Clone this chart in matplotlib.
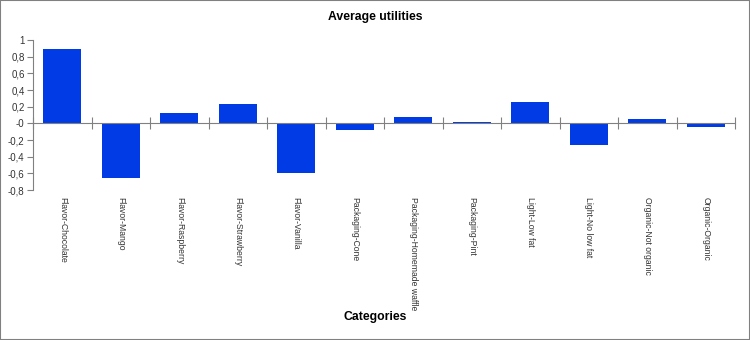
import numpy as np
import matplotlib.pyplot as plt
from matplotlib.patches import Rectangle
from matplotlib.ticker import FuncFormatter

categories = ['Flavor-Chocolate', 'Flavor-Mango', 'Flavor-Raspberry',
              'Flavor-Strawberry', 'Flavor-Vanilla', 'Packaging-Cone',
              'Packaging-Homemade waffle', 'Packaging-Pint', 'Light-Low fat',
              'Light-No low fat', 'Organic-Not organic', 'Organic-Organic']
utilities = [0.89, -0.65, 0.12, 0.23, -0.60, -0.085,
             0.07, 0.015, 0.25, -0.26, 0.05, -0.045]

plt.rcParams['font.family'] = 'Liberation Sans'

fig = plt.figure(figsize=(7.5, 3.4), dpi=100)
ax = fig.add_axes([33 / 750, 1 - 190 / 340, 702 / 750, 150 / 340])

x = np.arange(len(categories))
ax.bar(x, utilities, width=0.65, color='#003be6', zorder=2)

ax.set_xlim(-0.5, len(categories) - 0.5)
ax.set_ylim(-0.8, 1.0)
ax.set_yticks(np.arange(-0.8, 1.01, 0.2))
ax.yaxis.set_major_formatter(FuncFormatter(
    lambda v, p: ('%g' % round(v, 1)).replace('.', ',')))
ax.tick_params(axis='y', labelsize=7, length=4, color='gray',
               labelcolor='#333333', pad=2)

for s in ['top', 'right']:
    ax.spines[s].set_visible(False)
ax.spines['left'].set_color('gray')
ax.spines['bottom'].set_color('gray')
ax.spines['bottom'].set_position(('data', 0))

# category boundaries get the tick marks on the zero line
ax.set_xticks(np.arange(len(categories) + 1) - 0.5)
ax.set_xticklabels([])
ax.tick_params(axis='x', direction='inout', length=8, color='gray')

for i, name in enumerate(categories):
    ax.text(i, -0.045, name, transform=ax.get_xaxis_transform(),
            rotation=270, ha='center', va='top', fontsize=6.2,
            color='#333333')

fig.text(0.5, 1 - 17 / 340, 'Average utilities', ha='center', va='center',
         fontsize=8.8, fontweight='bold')
fig.text(0.5, 1 - 317 / 340, 'Categories', ha='center', va='center',
         fontsize=8.8, fontweight='bold')

fig.patches.append(Rectangle((0, 0), 1, 1, transform=fig.transFigure,
                             fill=False, edgecolor='gray', linewidth=1.5))

fig.savefig('out.png', dpi=100)
